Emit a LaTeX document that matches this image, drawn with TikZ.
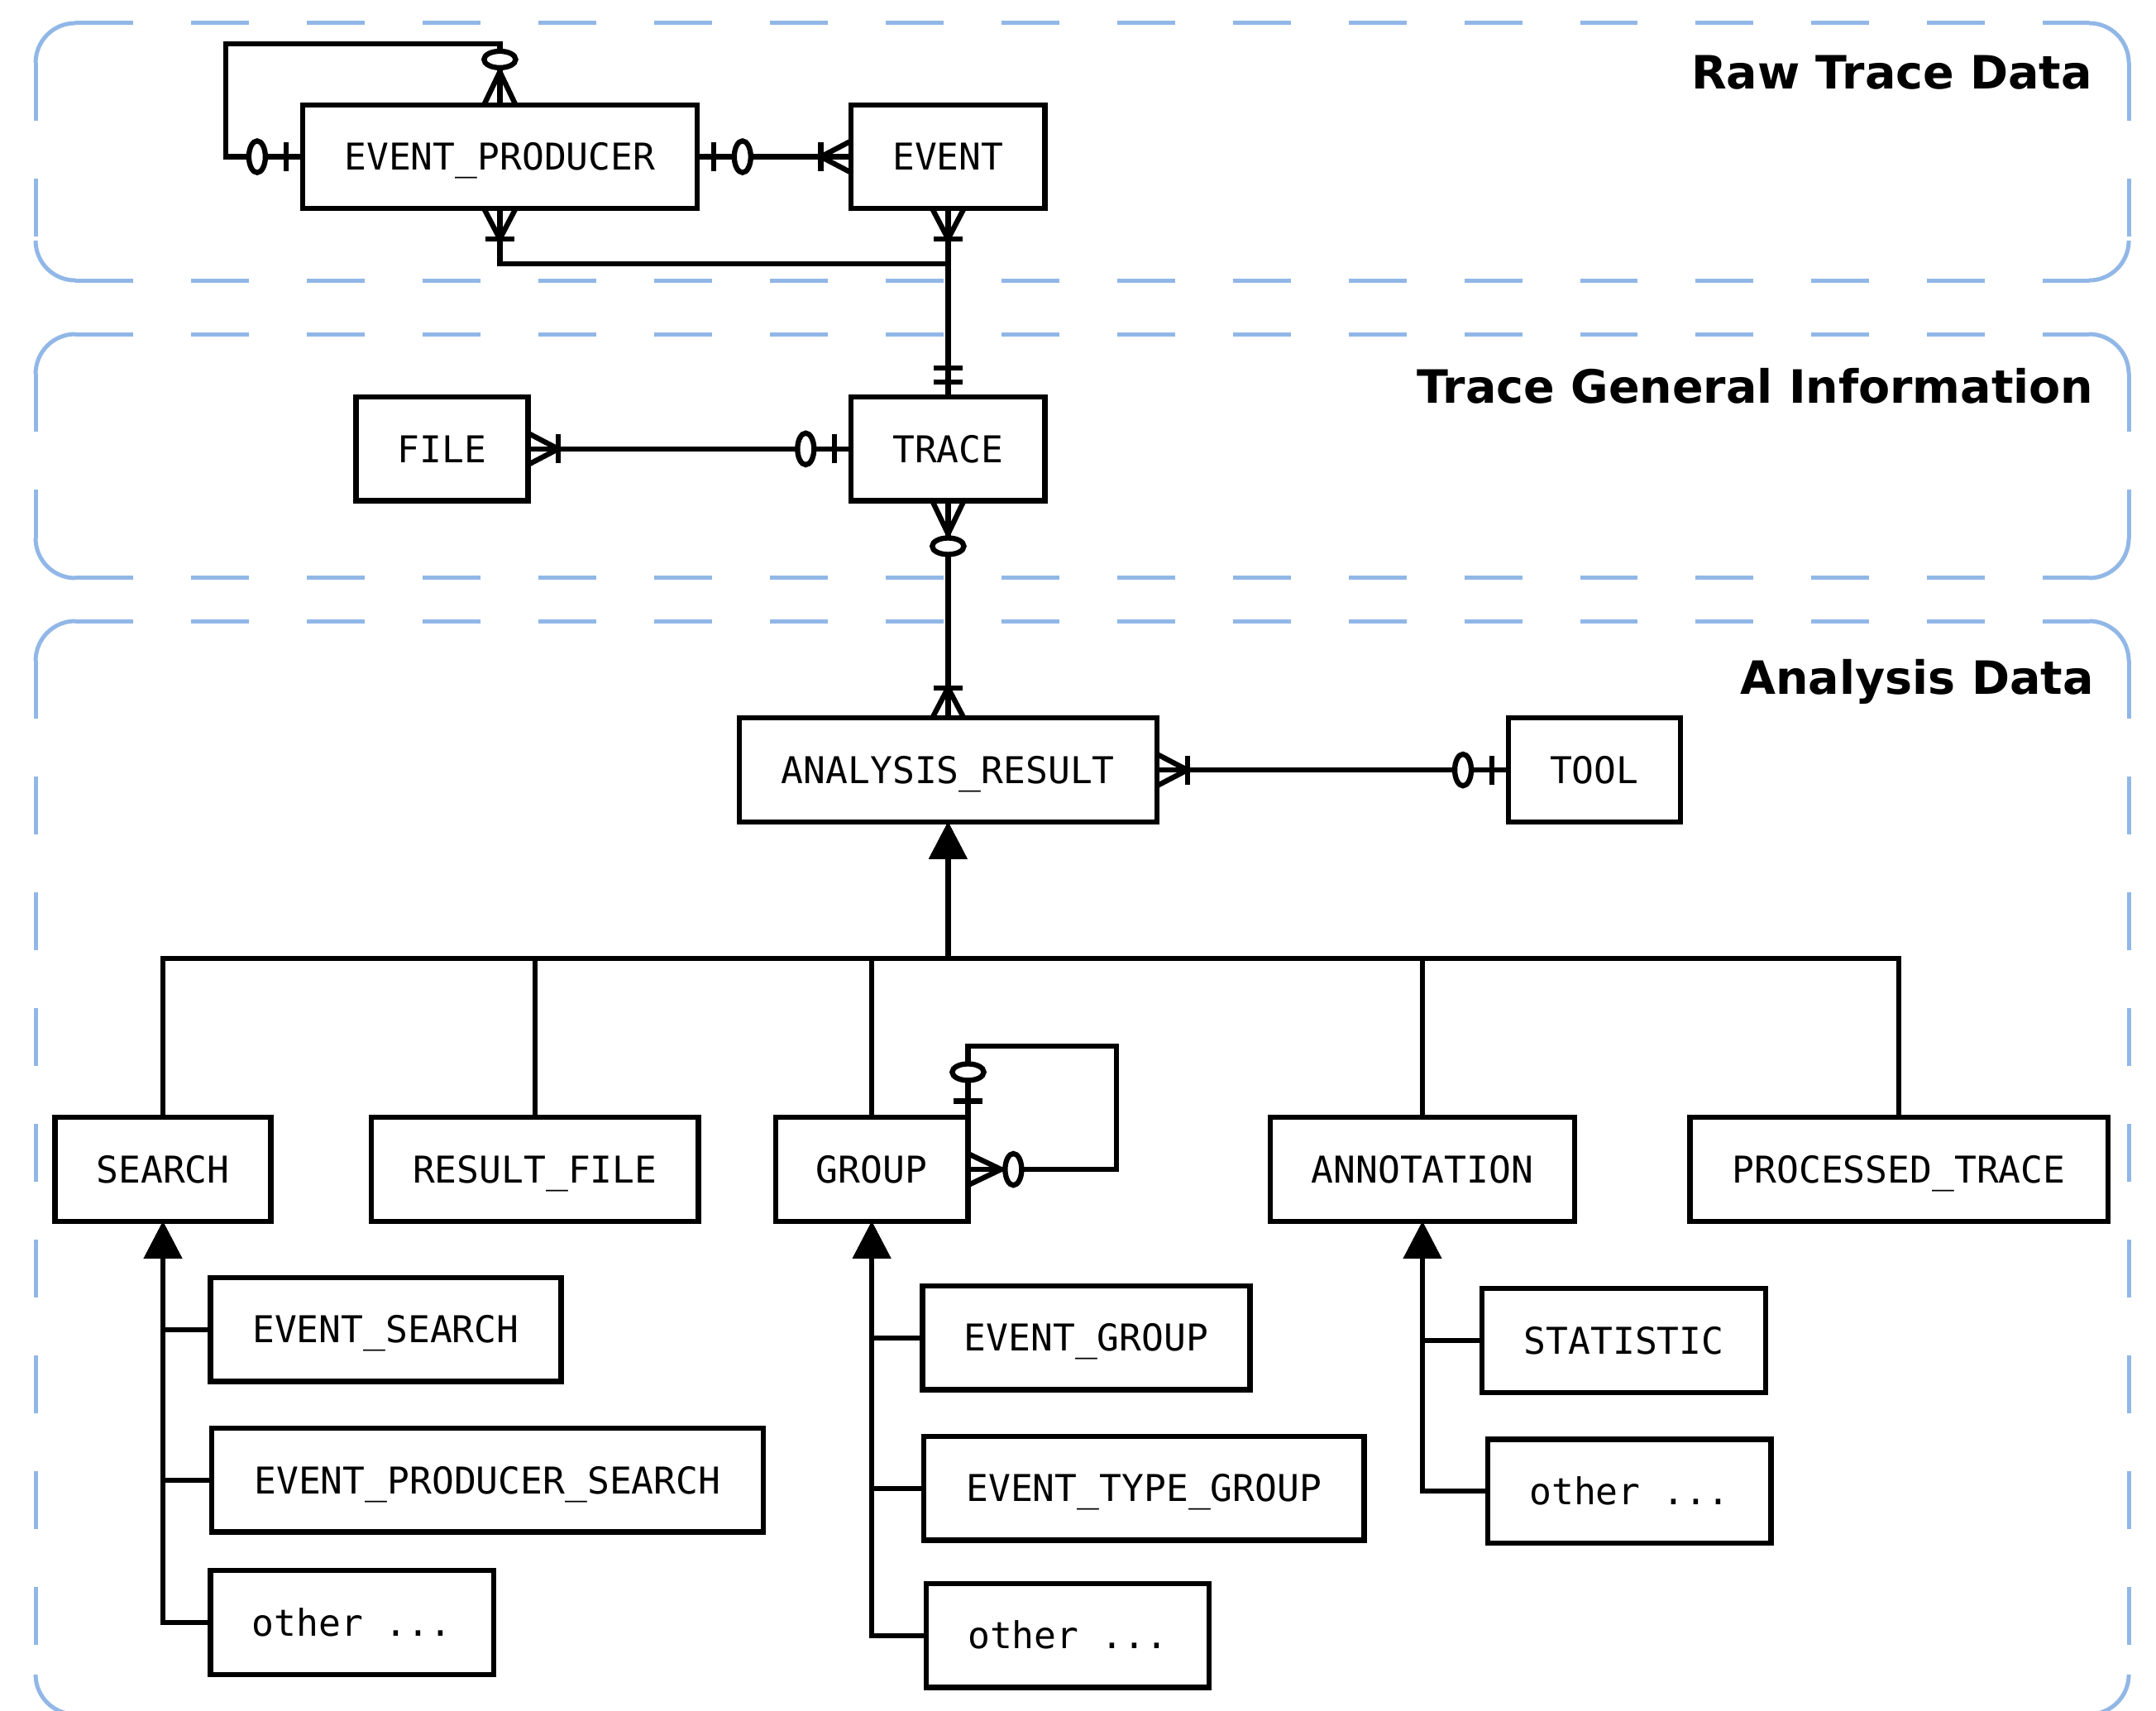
\documentclass[tikz,border=0pt]{standalone}
\usepackage{fontspec}
\setmonofont{DejaVu Sans Mono}
\newfontfamily\headfont{DejaVu Sans}
\usetikzlibrary{arrows.meta}

\definecolor{regionblue}{RGB}{145,183,231}

% ER end markers, drawn in a local frame whose x axis points away from the box
\newcommand\erBar[1]{\draw (#1,-10.5) -- (#1,10.5);}
\newcommand\erCirc[1]{\draw[fill=white] (#1,0) circle[x radius=6, y radius=11.5];}
\newcommand\erCrow[1]{\draw (0,11.5) -- (#1,0); \draw (0,-11.5) -- (#1,0);}
\newcommand\erMark[3]{\begin{scope}[shift={(#1)},rotate=#2]#3\end{scope}}
\newcommand\mkZeroOne{\erBar{12}\erCirc{33}}
\newcommand\mkZeroMany{\erCrow{24}\erCirc{33}}
\newcommand\mkOneMany{\erCrow{22}\erBar{22}}
\newcommand\mkOneOne{\erBar{11}\erBar{21}}

% dashed frame with solid rounded corners
\newcommand\regionFrame[4]{%
  \draw[regline] (#1,#2+28.9) |- (#1+28.9,#2);
  \draw[regline] (#3-28.9,#2) -| (#3,#2+28.9);
  \draw[regline] (#3,#4-28.9) |- (#3-28.9,#4);
  \draw[regline] (#1+28.9,#4) -| (#1,#4-28.9);
  \draw[regline,regdash] (#1+28.9,#2) -- (#3-28.9,#2);
  \draw[regline,regdash] (#1+28.9,#4) -- (#3-28.9,#4);
  \draw[regline,regdash] (#1,#2+28.9) -- (#1,#4-28.9);
  \draw[regline,regdash] (#3,#2+28.9) -- (#3,#4-28.9);
}

\tikzset{
  regline/.style={draw=regionblue, line width=0.05cm, rounded corners=0.48cm},
  regdash/.style={dash pattern=on 0.7cm off 0.7cm},
  ent/.style={draw, fill=white, line width=1.8pt, inner sep=0pt, outer sep=0pt,
    minimum width=#1*0.016626cm, minimum height=75.5*0.016626cm,
    font=\ttfamily\fontsize{12.7}{15}\selectfont, text height=9.2pt, text depth=0pt},
  regtitle/.style={anchor=base east, inner sep=0pt,
    font=\headfont\bfseries\fontsize{15.8}{18}\selectfont},
  inh/.style={-{Triangle[length=0.45cm,width=0.45cm]}},
}

\begin{document}
\begin{tikzpicture}[x=0.016626cm, y=-0.016626cm, line width=1.8pt]
\useasboundingbox (0,0) rectangle (1568,1244);

% regions
\regionFrame{25.9}{16.8}{1548.2}{203.9}
\regionFrame{25.9}{243}{1548.2}{420.4}
\regionFrame{25.9}{451.7}{1548.2}{1246.8}

\node[regtitle] (t1) at (1523.5,64.5) {Raw Trace Data};
\node[regtitle] (t2) at (1524.5,293) {Trace General Information};
\node[regtitle] (t3) at (1524.5,505) {Analysis Data};

% entities
\node[ent=287] (EP) at (363.5,114) {EVENT\_PRODUCER};
\node[ent=141] (EV) at (689.5,114) {EVENT};
\node[ent=125] (FILE) at (321.5,326.5) {FILE};
\node[ent=141] (TRACE) at (689.5,326.5) {TRACE};
\node[ent=304] (AR) at (689.5,560) {ANALYSIS\_RESULT};
\node[ent=125] (TOOL) at (1159.5,560) {TOOL};

\node[ent=157] (SEARCH) at (118.5,850.5) {SEARCH};
\node[ent=238] (RF) at (389,850.5) {RESULT\_FILE};
\node[ent=140] (GROUP) at (634,850.5) {GROUP};
\node[ent=221] (ANN) at (1034.5,850.5) {ANNOTATION};
\node[ent=304] (PT) at (1381,850.5) {PROCESSED\_TRACE};

\node[ent=255] (ES) at (280.5,967) {EVENT\_SEARCH};
\node[ent=401] (EPS) at (354.5,1076.5) {EVENT\_PRODUCER\_SEARCH};
\node[ent=206] (OS) at (256,1180) {other ...};

\node[ent=238] (EG) at (790,973) {EVENT\_GROUP};
\node[ent=320] (ETG) at (832,1082.5) {EVENT\_TYPE\_GROUP};
\node[ent=206] (OG) at (776.5,1189.5) {other ...};

\node[ent=206] (STAT) at (1181,975) {STATISTIC};
\node[ent=206] (OA) at (1185,1084.5) {other ...};

% relationships
\coordinate (eploop) at (164,32);
\coordinate (epjoin) at (689.5,192);
\coordinate (grploop) at (812,761);
\coordinate (bus) at (689.5,697);

\draw (EP.west) -| (eploop) -| (EP.north);
\draw (EP.east) -- (EV.west);
\draw (EP.south) |- (epjoin);
\draw (EV.south) -- (TRACE.north);
\draw (FILE.east) -- (TRACE.west);
\draw (TRACE.south) -- (AR.north);
\draw (AR.east) -- (TOOL.west);
\draw (GROUP.east) -| (grploop) -| (GROUP.north east);

% generalisation
\foreach \c in {SEARCH,RF,GROUP,ANN,PT}
  \draw[inh] (\c.north) |- (bus) -- (AR.south);
\foreach \c in {ES,EPS,OS}
  \draw[inh] (\c.west) -| (SEARCH.south);
\foreach \c in {EG,ETG,OG}
  \draw[inh] (\c.west) -| (GROUP.south);
\foreach \c in {STAT,OA}
  \draw[inh] (\c.west) -| (ANN.south);

% cardinality markers
\erMark{EP.west}{180}{\mkZeroOne}
\erMark{EP.north}{90}{\mkZeroMany}
\erMark{EP.east}{0}{\mkZeroOne}
\erMark{EV.west}{180}{\mkOneMany}
\erMark{EP.south}{-90}{\mkOneMany}
\erMark{EV.south}{-90}{\mkOneMany}
\erMark{TRACE.north}{90}{\mkOneOne}
\erMark{FILE.east}{0}{\mkOneMany}
\erMark{TRACE.west}{180}{\mkZeroOne}
\erMark{TRACE.south}{-90}{\mkZeroMany}
\erMark{AR.north}{90}{\mkOneMany}
\erMark{AR.east}{0}{\mkOneMany}
\erMark{TOOL.west}{180}{\mkZeroOne}
\erMark{GROUP.east}{0}{\mkZeroMany}
\erMark{GROUP.north east}{90}{\mkZeroOne}
\end{tikzpicture}
\end{document}
